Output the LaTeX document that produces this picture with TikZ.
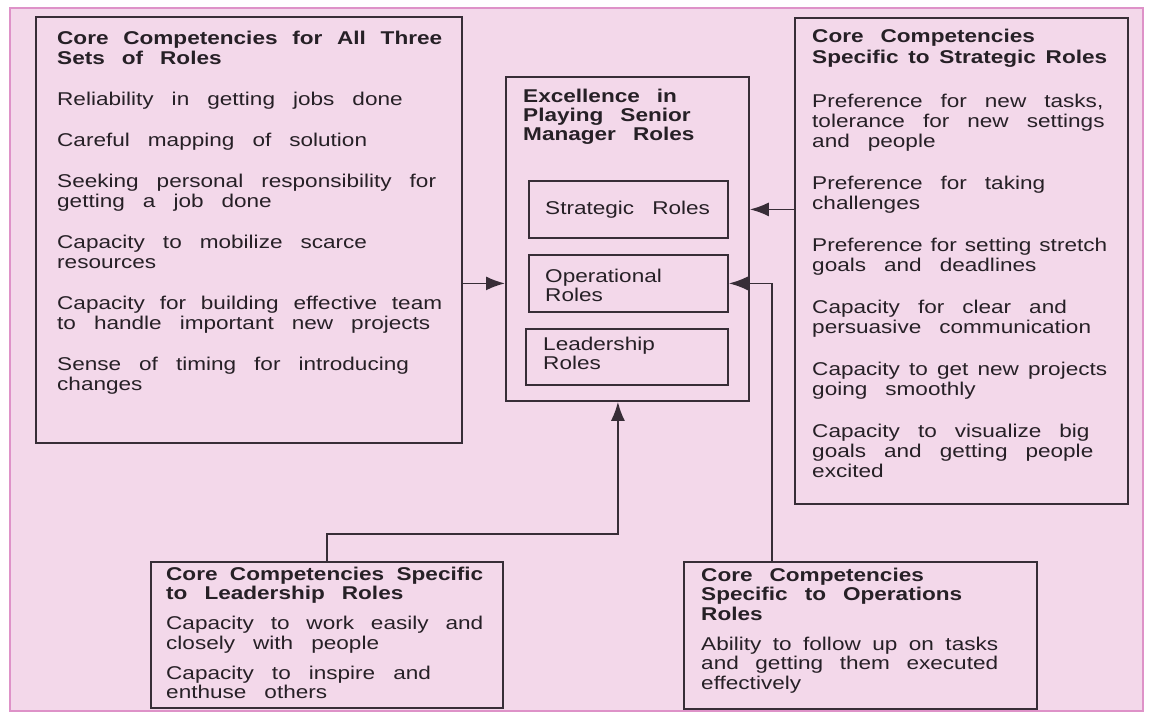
\documentclass[tikz,border=0pt]{standalone}
\usepackage{fontspec}
\setmainfont{Liberation Sans}[FakeStretch=1.22]
\usetikzlibrary{arrows.meta,calc,positioning}

\definecolor{pagepink}{RGB}{243,216,234}
\definecolor{framepink}{RGB}{222,146,200}
\definecolor{boxline}{RGB}{55,45,55}
\definecolor{inktext}{RGB}{38,32,38}

% wide word spaces of the scanned original, squeezed where a line is full
\newcommand{\hdsp}{\bfseries\spaceskip=17pt minus 13pt\relax}
\newcommand{\bdsp}{\mdseries\spaceskip=18pt minus 14pt\relax}

\begin{document}
\begin{tikzpicture}[x=1pt,y=-1pt,>={Latex[length=19pt,width=14pt]}]
			\tikzstyle{box}=[draw=boxline,line width=1.8pt,inner sep=0pt,anchor=north west]
			\tikzstyle{txt}=[inner sep=0pt,anchor=base west,text width=385pt,text=inktext,font=\fontsize{18.5}{20}\selectfont]
			\tikzstyle{lbl}=[inner sep=0pt,anchor=west,align=left,text=inktext,font=\fontsize{18.5}{19}\selectfont]
			\tikzstyle{link}=[draw=boxline,line width=1.8pt]

			\useasboundingbox (0,0) rectangle (1155,716);
			\draw [draw=framepink, fill=pagepink, line width=2pt] (10,8) rectangle (1143,711);

			% boxes
			\node (allbox) [box, minimum width=426pt, minimum height=426pt] at (35,16) {};
			\node (rolebox) [box, minimum width=243pt, minimum height=324pt] at (505,76) {};
			\node (stbox) [box, minimum width=199pt, minimum height=57pt] at (528,180) {};
			\node (opbox) [box, minimum width=199pt, minimum height=57pt] at (528,254) {};
			\node (ldbox) [box, minimum width=202pt, minimum height=56pt] at (525,328) {};
			\node (stratbox) [box, minimum width=333pt, minimum height=486pt] at (794,17) {};
			\node (leadbox) [box, minimum width=352pt, minimum height=146pt] at (150,561) {};
			\node (opsbox) [box, minimum width=353pt, minimum height=147pt] at (683,561) {};

			% texts
			\node (alltxt) [txt] at ($(allbox.north west)+(22,28)$) {\hdsp Core Competencies for All Three\\Sets of Roles\\[21pt]
				\bdsp Reliability in getting jobs done\\[21pt]
				Careful mapping of solution\\[21pt]
				Seeking personal responsibility for\\getting a job done\\[21pt]
				Capacity to mobilize scarce\\resources\\[21pt]
				Capacity for building effective team\\to handle important new projects\\[21pt]
				Sense of timing for introducing\\changes};

			\node (roletxt) [txt, text width=200pt, font=\fontsize{18.5}{19}\selectfont] at ($(rolebox.north west)+(18,26)$) {\hdsp Excellence in\\Playing Senior\\Manager Roles};
			\node (sttxt) [lbl] at ($(stbox.west)+(17,0)$) {\bdsp Strategic Roles};
			\node (optxt) [lbl] at ($(opbox.west)+(17,2)$) {Operational\\Roles};
			\node (ldtxt) [lbl] at ($(ldbox.west)+(18,-4)$) {Leadership\\Roles};

			\node (strattxt) [txt, text width=295pt] at ($(stratbox.north west)+(18,25)$) {\hdsp Core Competencies\\[1pt]Specific to Strategic Roles\\[24pt]
				\bdsp Preference for new tasks,\\tolerance for new settings\\and people\\[22pt]
				Preference for taking\\challenges\\[22pt]
				Preference for setting stretch\\goals and deadlines\\[22pt]
				Capacity for clear and\\persuasive communication\\[22pt]
				Capacity to get new projects\\going smoothly\\[22pt]
				Capacity to visualize big\\goals and getting people\\excited};

			\node (leadtxt) [txt, text width=317pt, font=\fontsize{18.5}{19.5}\selectfont] at ($(leadbox.north west)+(16,19)$) {\hdsp Core Competencies Specific\\to Leadership Roles\\[10.5pt]
				\bdsp Capacity to work easily and\\closely with people\\[10.5pt]
				Capacity to inspire and\\enthuse others};

			\node (opstxt) [txt, text width=297pt, font=\fontsize{18.5}{19.5}\selectfont] at ($(opsbox.north west)+(18,20)$) {\hdsp Core Competencies\\Specific to Operations\\Roles\\[10.5pt]
				\bdsp Ability to follow up on tasks\\and getting them executed\\effectively};

			% connectors
			\coordinate (opsup) at ($(opsbox.north west)+(89,0)$);
			\coordinate (leadup) at ($(leadbox.north west)+(177,0)$);
			\coordinate (leadin) at ($(rolebox.south)+(-9.5,0)$);

			\draw [link,->] (allbox.east |- opbox.center) -- (rolebox.west |- opbox.center);
			\draw [link,->] (stratbox.west |- stbox.center) -- (rolebox.east |- stbox.center);
			\draw [link,->] (opsup) |- (opbox.east);
			\draw [link,->] (leadup) |- ($(leadin)+(0,132)$) -- (leadin);
		\end{tikzpicture}
\end{document}
